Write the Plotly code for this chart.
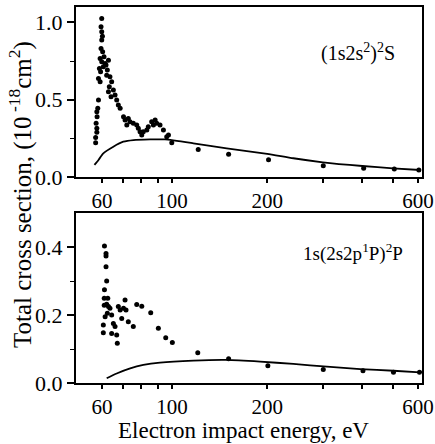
import plotly.graph_objects as go

# ---------------- data ----------------
# Upper panel: (1s2s^2)^2S
top_exp_x = [57.3, 57.3, 57.8, 57.8, 57.5, 57.9, 57.8, 58.2, 58.5,
             59.9, 59.6, 59.9, 60.2, 59.9, 59.6, 60.3, 59.2, 60.9, 59.9, 58.9, 59.4, 58.5, 59.2, 60.6, 61.4,
             61.8, 62.4, 62.9, 62.1, 63.6, 64.4, 63.3, 65.2, 66.0, 64.1, 62.9,
             66.8, 67.6, 68.5, 70.2, 71.0, 71.9, 72.7, 73.6, 75.4, 77.3, 78.2, 79.2,
             80.2, 81.1, 83.2, 84.1, 86.2, 87.3, 88.4, 89.4, 91.6, 93.9, 96.2, 97.4,
             99.8, 121, 151, 202, 301, 404, 505, 604]
top_exp_y = [0.222, 0.256, 0.289, 0.315, 0.347, 0.390, 0.422, 0.444, 0.498,
             1.026, 0.972, 0.939, 0.911, 0.886, 0.832, 0.810, 0.767, 0.778, 0.746, 0.702, 0.681, 0.638, 0.616, 0.713, 0.735,
             0.724, 0.692, 0.756, 0.659, 0.649, 0.616, 0.584, 0.562, 0.530, 0.519, 0.552,
             0.498, 0.465, 0.444, 0.390, 0.368, 0.336, 0.379, 0.358, 0.347, 0.336, 0.315, 0.293,
             0.272, 0.293, 0.304, 0.325, 0.358, 0.336, 0.368, 0.347, 0.336, 0.304, 0.261, 0.272,
             0.222, 0.178, 0.147, 0.112, 0.073, 0.056, 0.052, 0.045]
top_th_x = [56.8, 58.5, 60.6, 65.2, 70.1, 75.5, 85.2, 95, 116.8, 148.9, 200, 242, 300, 400, 500, 609]
top_th_y = [0.078, 0.11, 0.153, 0.196, 0.228, 0.239, 0.243, 0.243, 0.218, 0.185, 0.150, 0.121, 0.095, 0.071, 0.056, 0.045]

# Lower panel: 1s(2s2p 1P)2P
bot_exp_x = [61.1, 61.8, 61.8, 61.8, 62.1, 61.1, 61.0, 61.0, 62.1, 62.6, 62.9, 61.4, 60.6, 60.6,
             62.4, 63.6, 64.4, 65.2, 66.0, 66.8, 67.1, 64.4, 67.6, 68.5, 69.3, 71.0, 70.2, 71.5,
             72.7, 75.4, 77.3, 80.2, 85.6, 90.5, 95.5, 100.2, 120.6, 151, 201, 301, 402, 502, 607]
bot_exp_y = [0.403, 0.381, 0.374, 0.342, 0.300, 0.274, 0.249, 0.229, 0.232, 0.249, 0.225, 0.195, 0.171, 0.148,
             0.205, 0.220, 0.200, 0.175, 0.166, 0.141, 0.117, 0.146, 0.225, 0.215, 0.190, 0.244, 0.220, 0.215,
             0.180, 0.166, 0.231, 0.226, 0.207, 0.161, 0.133, 0.119, 0.089, 0.071, 0.051, 0.040, 0.036, 0.032, 0.032]
bot_th_x = [62.1, 66.8, 73.7, 81.1, 91.6, 116.8, 149, 190, 242, 309, 394, 502, 609]
bot_th_y = [0.014, 0.028, 0.043, 0.053, 0.060, 0.066, 0.068, 0.063, 0.056, 0.048, 0.041, 0.036, 0.031]

x_tickvals = [60, 100, 200, 600]
x_ticktext = ["60", "100", "200", "600"]
x_minor_tickvals = [70, 80, 90, 300, 400, 500]
top_label = "(1s2s<sup>2</sup>)<sup>2</sup>S"
bot_label = "1s(2s2p<sup>1</sup>P)<sup>2</sup>P"
y_title = "Total cross section, (10<sup> -18</sup>cm<sup>2</sup>)"
x_title = "Electron impact energy, eV"

FONT = "Liberation Serif, Times New Roman, serif"

fig = go.Figure()
mk = dict(color="black", size=5)
ln = dict(color="black", width=1.8)
fig.add_trace(go.Scatter(x=top_exp_x, y=top_exp_y, mode="markers", marker=mk, xaxis="x", yaxis="y"))
fig.add_trace(go.Scatter(x=top_th_x, y=top_th_y, mode="lines", line=dict(ln, shape="spline", smoothing=0.5), xaxis="x", yaxis="y"))
fig.add_trace(go.Scatter(x=bot_exp_x, y=bot_exp_y, mode="markers", marker=mk, xaxis="x2", yaxis="y2"))
fig.add_trace(go.Scatter(x=bot_th_x, y=bot_th_y, mode="lines", line=dict(ln, shape="spline", smoothing=0.5), xaxis="x2", yaxis="y2"))

xcommon = dict(type="log", range=[1.696, 2.791], tickmode="array", tickvals=x_tickvals, ticktext=x_ticktext,
               ticks="outside", ticklen=4, tickwidth=1.5, tickcolor="black", ticklabeloverflow="allow",
               minor=dict(tickmode="array", tickvals=x_minor_tickvals, ticks="outside", ticklen=4,
                          tickwidth=1.5, tickcolor="black", showgrid=False),
               showline=True, linecolor="black", linewidth=2, mirror=True, automargin=False,
               showgrid=False, zeroline=False, tickfont=dict(size=21, family=FONT, color="black"))
ycommon = dict(ticks="outside", ticklen=7, tickwidth=1.5, tickcolor="black", automargin=False,
               showline=True, linecolor="black", linewidth=2, mirror=True,
               showgrid=False, zeroline=False, tickfont=dict(size=22, family=FONT, color="black"))

fig.update_layout(
    width=435, height=444,
    margin=dict(l=76, r=13, t=7, b=61),
    paper_bgcolor="white", plot_bgcolor="white",
    showlegend=False,
    font=dict(family=FONT, color="black"),
    xaxis=dict(xcommon, domain=[0, 1], anchor="y"),
    yaxis=dict(ycommon, domain=[0.548, 1], anchor="x", range=[0, 1.1], tickvals=[0, 0.5, 1.0],
               ticktext=["0.0", "0.5", "1.0"],
               minor=dict(tickvals=[0.25, 0.75], ticks="outside", ticklen=4, tickcolor="black", tickwidth=1.2)),
    xaxis2=dict(xcommon, domain=[0, 1], anchor="y2"),
    yaxis2=dict(ycommon, domain=[0, 0.452], anchor="x2", range=[0, 0.5], tickvals=[0, 0.2, 0.4],
                ticktext=["0.0", "0.2", "0.4"],
                minor=dict(tickvals=[0.1, 0.3], ticks="outside", ticklen=4, tickcolor="black", tickwidth=1.2)),
    annotations=[
        dict(text=top_label, xref="x domain", yref="y domain", x=0.928, y=0.735, xanchor="right", yanchor="middle",
             showarrow=False, font=dict(size=20, family=FONT, color="black")),
        dict(text=bot_label, xref="x2 domain", yref="y2 domain", x=0.951, y=0.765, xanchor="right", yanchor="middle",
             showarrow=False, font=dict(size=19, family=FONT, color="black")),
        dict(text=y_title, xref="paper", yref="paper", x=0, y=0.5, xshift=-56, xanchor="center", yanchor="middle",
             textangle=-90, showarrow=False, font=dict(size=25, family=FONT, color="black")),
        dict(text=x_title, xref="paper", yref="paper", x=0.483, y=0, yshift=-47, xanchor="center", yanchor="middle",
             showarrow=False, font=dict(size=23, family=FONT, color="black")),
    ],
)

fig.write_html("out.html")
